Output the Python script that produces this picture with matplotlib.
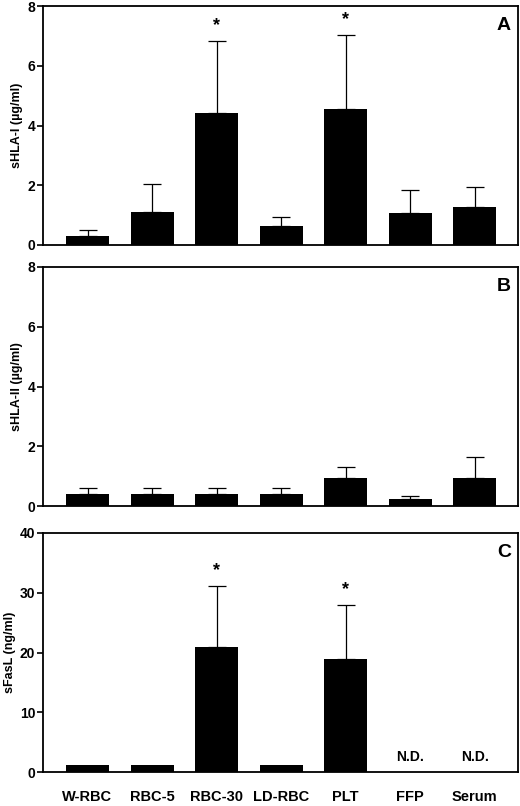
import numpy as np
import matplotlib
matplotlib.use("Agg")
import matplotlib.pyplot as plt

plt.rcParams['font.family'] = ['Liberation Sans', 'DejaVu Sans']
plt.rcParams['font.weight'] = 'bold'

categories = ["W-RBC", "RBC-5", "RBC-30", "LD-RBC", "PLT", "FFP", "Serum"]

hla1_mean = [0.30, 1.11, 4.42, 0.64, 4.55, 1.06, 1.26]
hla1_sd = [0.20, 0.92, 2.40, 0.29, 2.48, 0.78, 0.68]
hla1_sig = [False, False, True, False, True, False, False]

hla2_mean = [0.41, 0.41, 0.41, 0.41, 0.93, 0.23, 0.94]
hla2_sd = [0.20, 0.20, 0.20, 0.20, 0.38, 0.09, 0.69]
hla2_sig = [False] * 7

fasl_mean = [1.1, 1.1, 20.9, 1.1, 18.9, np.nan, np.nan]
fasl_sd = [0.0, 0.0, 10.3, 0.0, 9.1, np.nan, np.nan]
fasl_sig = [False, False, True, False, True, False, False]
fasl_nd = [False, False, False, False, False, True, True]

panels = [
    dict(mean=hla1_mean, sd=hla1_sd, sig=hla1_sig, nd=[False]*7,
         ylabel="sHLA-I (µg/ml)", ylim=8, ticks=[0, 2, 4, 6, 8], letter="A"),
    dict(mean=hla2_mean, sd=hla2_sd, sig=hla2_sig, nd=[False]*7,
         ylabel="sHLA-II (µg/ml)", ylim=8, ticks=[0, 2, 4, 6, 8], letter="B"),
    dict(mean=fasl_mean, sd=fasl_sd, sig=fasl_sig, nd=fasl_nd,
         ylabel="sFasL (ng/ml)", ylim=40, ticks=[0, 10, 20, 30, 40], letter="C"),
]

fig = plt.figure(figsize=(5.2, 8.06), dpi=100)
W, H = 520, 806
left, right = 43, 518
tops = [6, 267, 533]
bottoms = [245, 506, 772]

x = np.arange(len(categories))
for i, p in enumerate(panels):
    ax = fig.add_axes([left / W, 1 - bottoms[i] / H, (right - left) / W,
                       (bottoms[i] - tops[i]) / H])
    m = np.array(p["mean"], dtype=float)
    s = np.array(p["sd"], dtype=float)
    valid = ~np.isnan(m)
    ax.bar(x[valid], m[valid], width=0.667, color="black", zorder=2)
    has_err = valid & (np.nan_to_num(s) > 0)
    ax.errorbar(x[has_err], m[has_err],
                yerr=[np.zeros(has_err.sum()), s[has_err]],
                fmt="none", ecolor="black", elinewidth=0.9,
                capsize=6.5, capthick=0.9, zorder=1)
    for j in range(len(categories)):
        if p["sig"][j]:
            ax.annotate("*", (x[j], m[j] + s[j]), xytext=(0, 5),
                        textcoords="offset points", ha="center", va="bottom",
                        fontsize=13, fontweight="bold")
        if p["nd"][j]:
            ax.annotate("N.D.", (x[j], 0), xytext=(0, 6),
                        textcoords="offset points", ha="center", va="bottom",
                        fontsize=10, fontweight="bold")
    ax.set_xlim(-0.69, 6.67)
    ax.set_ylim(0, p["ylim"])
    ax.set_yticks(p["ticks"])
    ax.set_yticklabels([str(t) for t in p["ticks"]], fontsize=10, fontweight="bold")
    ax.tick_params(axis="y", direction="out", length=4, width=1.2, pad=1.5)
    ax.tick_params(axis="x", length=0)
    if i == 2:
        ax.set_xticks(x)
        ax.set_xticklabels(categories, fontsize=10.5, fontweight="bold")
        ax.tick_params(axis="x", pad=13)
    else:
        ax.set_xticks([])
    ax.set_ylabel(p["ylabel"], fontsize=9, fontweight="bold", labelpad=3)
    for sp in ax.spines.values():
        sp.set_linewidth(1.3)
    ax.text(0.985, 0.955, p["letter"], transform=ax.transAxes, ha="right",
            va="top", fontsize=14, fontweight="bold")

fig.savefig("out.png", dpi=100)
